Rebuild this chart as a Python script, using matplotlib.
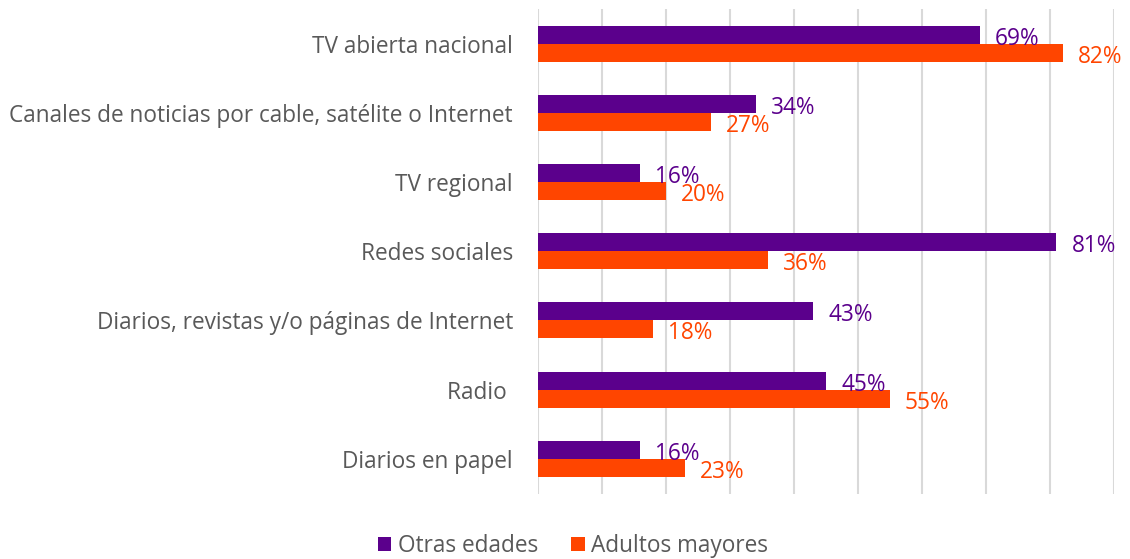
import matplotlib
matplotlib.use("Agg")
import matplotlib.pyplot as plt
import numpy as np

categories = ["TV abierta nacional",
              "Canales de noticias por cable, satélite o Internet",
              "TV regional",
              "Redes sociales",
              "Diarios, revistas y/o páginas de Internet",
              "Radio ",
              "Diarios en papel"]
otras_edades = [69, 34, 16, 81, 43, 45, 16]
adultos_mayores = [82, 27, 20, 36, 18, 55, 23]
series_names = ["Otras edades", "Adultos mayores"]

purple = "#5B008C"
orange = "#FF4500"
gray = "#595959"

plt.rcParams['font.family'] = ['Open Sans', 'DejaVu Sans']

fig = plt.figure(figsize=(11.30, 5.59), dpi=100)
ax = fig.add_axes([538/1130, 1-493.5/559, (1114-538)/1130, (493.5-9)/559])

y = np.arange(len(categories))
h = 0.26
b1 = ax.barh(y - h/2, otras_edades, height=h, color=purple, label=series_names[0], zorder=3)
b2 = ax.barh(y + h/2, adultos_mayores, height=h, color=orange, label=series_names[1], zorder=3)

ax.set_xlim(0, 90)
ax.set_ylim(len(categories) - 0.5, -0.5)
ax.set_xticks(np.arange(0, 91, 10))
ax.set_xticklabels([])
ax.tick_params(axis='x', length=0)
ax.tick_params(axis='y', length=0, pad=18, labelsize=16.3, labelcolor=gray)
ax.set_yticks(y)
ax.set_yticklabels(categories)
ax.grid(axis='x', color='#D9D9D9', linewidth=1.5, zorder=0)
for s in ax.spines.values():
    s.set_visible(False)

for vals, off, col in [(otras_edades, -h/2, purple), (adultos_mayores, h/2, orange)]:
    for i, v in enumerate(vals):
        ax.annotate(f"{v}%", xy=(v, i + off), xytext=(15, -4), textcoords='offset pixels',
                    ha='left', va='center', fontsize=16.3, color=col, zorder=4,
                    annotation_clip=False)

leg = fig.legend(handles=[b1, b2], labels=series_names, loc='center', bbox_to_anchor=(573/1130, 1-546/559),
                 ncol=2, frameon=False, fontsize=16.3, handlelength=0.6, handleheight=0.6,
                 handletextpad=0.3, columnspacing=1.45)
for t in leg.get_texts():
    t.set_color(gray)

fig.savefig("out.png", dpi=100)
